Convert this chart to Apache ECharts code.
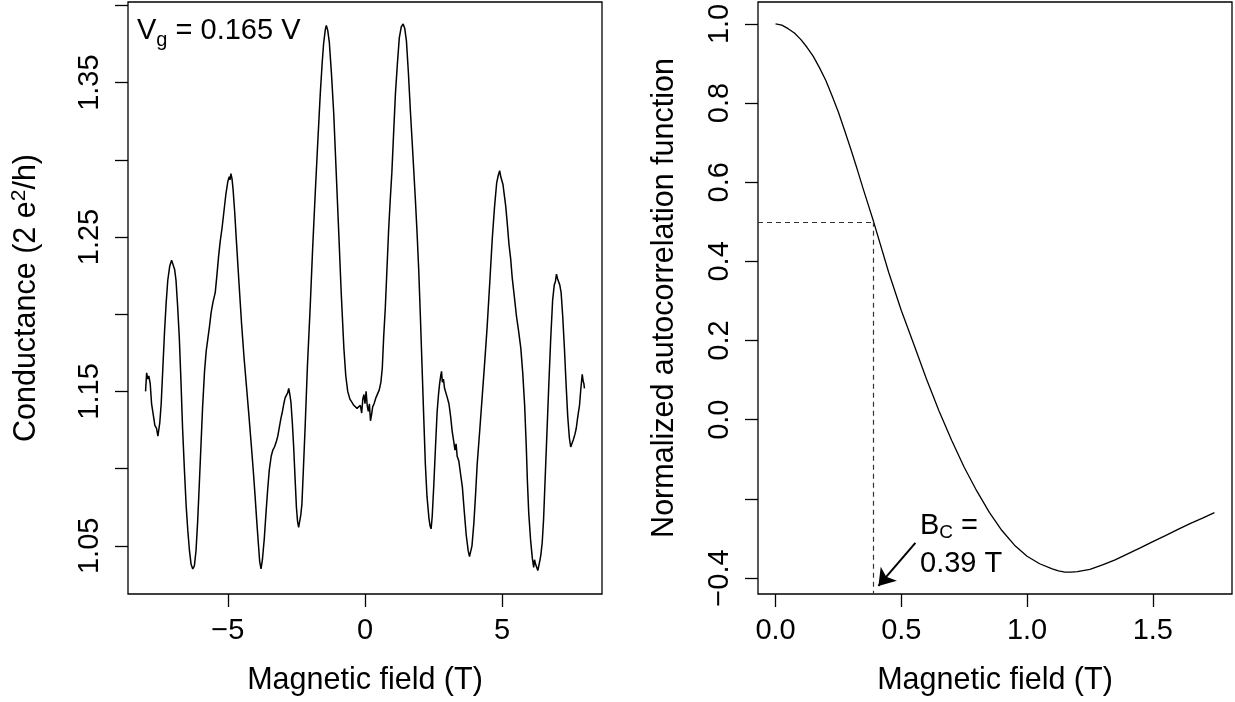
<!DOCTYPE html>
<html><head><meta charset="utf-8">
<script src="https://cdn.jsdelivr.net/npm/echarts@6/dist/echarts.min.js"></script>
<style>html,body{margin:0;padding:0;background:#fff}#c{width:1235px;height:702px}</style>
</head><body><div id="c"></div><script>
// ---- Left panel: conductance trace ----
const condField = [-8.00,-7.96,-7.92,-7.88,-7.83,-7.78,-7.72,-7.66,-7.60,-7.55,-7.52,-7.48,-7.43,-7.37,-7.31,-7.25,-7.19,-7.12,-7.05,-7.00,-6.94,-6.89,-6.83,-6.77,-6.71,-6.65,-6.58,-6.52,-6.46,-6.40,-6.34,-6.28,-6.22,-6.16,-6.10,-6.04,-5.98,-5.92,-5.85,-5.79,-5.73,-5.67,-5.61,-5.54,-5.46,-5.40,-5.34,-5.28,-5.21,-5.14,-5.07,-5.00,-4.95,-4.92,-4.89,-4.85,-4.81,-4.75,-4.69,-4.60,-4.50,-4.41,-4.32,-4.23,-4.14,-4.07,-4.01,-3.95,-3.89,-3.84,-3.79,-3.74,-3.67,-3.61,-3.55,-3.49,-3.42,-3.36,-3.30,-3.24,-3.18,-3.12,-3.06,-3.01,-2.96,-2.91,-2.86,-2.82,-2.78,-2.74,-2.70,-2.65,-2.60,-2.55,-2.50,-2.46,-2.42,-2.38,-2.34,-2.30,-2.25,-2.18,-2.10,-2.00,-1.91,-1.81,-1.72,-1.63,-1.56,-1.51,-1.45,-1.41,-1.36,-1.30,-1.22,-1.14,-1.05,-0.96,-0.87,-0.77,-0.70,-0.63,-0.55,-0.48,-0.41,-0.35,-0.29,-0.22,-0.17,-0.12,-0.08,-0.04,0.00,0.04,0.08,0.12,0.16,0.20,0.24,0.28,0.33,0.40,0.46,0.52,0.58,0.63,0.68,0.74,0.80,0.86,0.92,0.98,1.04,1.11,1.18,1.25,1.32,1.39,1.45,1.51,1.58,1.66,1.75,1.84,1.90,1.96,2.02,2.08,2.14,2.20,2.26,2.33,2.37,2.41,2.45,2.51,2.57,2.63,2.68,2.72,2.76,2.79,2.82,2.86,2.90,2.94,3.00,3.06,3.12,3.18,3.24,3.28,3.32,3.36,3.42,3.48,3.55,3.62,3.69,3.76,3.81,3.85,3.90,3.97,4.03,4.09,4.18,4.27,4.36,4.45,4.55,4.64,4.72,4.80,4.86,4.91,4.95,5.00,5.03,5.08,5.13,5.19,5.25,5.31,5.37,5.44,5.52,5.60,5.68,5.75,5.82,5.88,5.92,5.97,6.04,6.10,6.15,6.18,6.22,6.26,6.30,6.33,6.37,6.41,6.46,6.51,6.56,6.63,6.70,6.77,6.84,6.90,6.94,6.98,7.02,7.06,7.10,7.15,7.21,7.27,7.33,7.39,7.45,7.50,7.55,7.60,7.65,7.70,7.76,7.82,7.87,7.92,7.95,7.98,8.00];
const condValue = [1.150,1.162,1.158,1.160,1.155,1.142,1.135,1.128,1.126,1.121,1.122,1.130,1.142,1.165,1.188,1.207,1.222,1.231,1.235,1.234,1.229,1.222,1.205,1.185,1.157,1.126,1.098,1.076,1.060,1.047,1.038,1.035,1.037,1.047,1.066,1.090,1.115,1.140,1.163,1.176,1.184,1.192,1.201,1.208,1.214,1.225,1.237,1.247,1.256,1.267,1.278,1.286,1.289,1.287,1.291,1.288,1.281,1.266,1.248,1.222,1.194,1.172,1.153,1.134,1.114,1.098,1.083,1.067,1.052,1.040,1.035,1.041,1.055,1.071,1.086,1.099,1.108,1.112,1.114,1.117,1.121,1.127,1.133,1.137,1.142,1.146,1.147,1.149,1.152,1.148,1.143,1.130,1.114,1.094,1.075,1.066,1.062,1.063,1.070,1.077,1.098,1.128,1.166,1.204,1.242,1.280,1.312,1.343,1.363,1.375,1.384,1.387,1.384,1.376,1.355,1.330,1.292,1.254,1.215,1.178,1.160,1.150,1.145,1.143,1.141,1.142,1.139,1.138,1.141,1.136,1.145,1.148,1.142,1.150,1.141,1.137,1.142,1.131,1.135,1.140,1.142,1.146,1.147,1.151,1.156,1.165,1.185,1.204,1.229,1.254,1.274,1.292,1.316,1.343,1.362,1.379,1.386,1.388,1.385,1.377,1.357,1.330,1.302,1.273,1.252,1.228,1.198,1.166,1.134,1.103,1.082,1.068,1.063,1.061,1.069,1.090,1.114,1.137,1.148,1.155,1.160,1.163,1.156,1.158,1.152,1.151,1.146,1.142,1.134,1.124,1.117,1.112,1.116,1.108,1.105,1.097,1.088,1.072,1.057,1.047,1.043,1.042,1.050,1.065,1.083,1.103,1.124,1.146,1.168,1.191,1.221,1.249,1.269,1.285,1.290,1.293,1.289,1.288,1.284,1.277,1.270,1.258,1.245,1.236,1.223,1.212,1.199,1.189,1.178,1.162,1.141,1.114,1.092,1.071,1.053,1.042,1.036,1.041,1.038,1.039,1.034,1.033,1.040,1.044,1.052,1.067,1.090,1.122,1.154,1.184,1.209,1.219,1.221,1.226,1.223,1.224,1.219,1.214,1.198,1.178,1.155,1.134,1.120,1.114,1.113,1.119,1.122,1.126,1.134,1.141,1.152,1.161,1.157,1.155,1.152];
const leftXTicks = [-5, 0, 5];
const leftYTicks = [1.05, 1.10, 1.15, 1.20, 1.25, 1.30, 1.35, 1.40];
const leftYLabels = [1.05, 1.15, 1.25, 1.35];

// ---- Right panel: normalized autocorrelation ----
const acfField = [0.000,0.025,0.050,0.075,0.100,0.125,0.150,0.175,0.200,0.225,0.250,0.275,0.300,0.325,0.350,0.390,0.450,0.500,0.550,0.600,0.650,0.700,0.750,0.800,0.850,0.900,0.950,1.000,1.050,1.100,1.125,1.150,1.175,1.200,1.250,1.300,1.350,1.400,1.450,1.500,1.550,1.600,1.650,1.700,1.745];
const acfValue = [1.000,0.997,0.988,0.977,0.961,0.941,0.918,0.889,0.857,0.818,0.777,0.730,0.682,0.632,0.580,0.500,0.372,0.276,0.190,0.103,0.022,-0.052,-0.120,-0.180,-0.234,-0.280,-0.317,-0.345,-0.364,-0.377,-0.382,-0.385,-0.385,-0.384,-0.378,-0.367,-0.354,-0.339,-0.324,-0.308,-0.293,-0.277,-0.262,-0.248,-0.235];
const rightXTicks = [0, 0.5, 1.0, 1.5];
const rightYTicks = [-0.4, -0.2, 0, 0.2, 0.4, 0.6, 0.8, 1.0];
const rightYLabels = [-0.4, 0, 0.2, 0.4, 0.6, 0.8, 1.0];
const bcField = 0.39;
const halfLevel = 0.5;
const arrowFrom = [0.556, -0.311];
const arrowTo = [0.409, -0.420];

// ---- helpers ----
function rPad(arr) {
  const mn = Math.min(...arr), mx = Math.max(...arr), d = (mx - mn) * 0.04;
  return [mn - d, mx + d];
}
function fmt(dec) {
  return v => (v < -1e-9 ? '\u2212' : '') + Math.abs(v).toFixed(dec);
}
const FONT = 'Liberation Sans, Arial, Helvetica, sans-serif';
const FS = 29;
const NFS = 30.5;
const txt = { color: '#000', fontFamily: FONT, fontSize: FS };
const ntxt = { color: '#000', fontFamily: FONT, fontSize: NFS };

const lx = rPad(condField), ly = rPad(condValue);
const rx = rPad(acfField), ry = rPad(acfValue);

function xAxisCfg(grid, lim, ticks, dec) {
  return {
    gridIndex: grid, type: 'value', min: lim[0], max: lim[1],
    axisLine: { show: false, onZero: false },
    axisTick: { show: true, length: 13, customValues: ticks, lineStyle: { color: '#000', width: 1.3 } },
    axisLabel: Object.assign({ customValues: ticks, formatter: fmt(dec), margin: 22 }, txt),
    splitLine: { show: false },
    name: 'Magnetic field (T)', nameLocation: 'middle', nameGap: 71,
    nameTextStyle: Object.assign({}, ntxt)
  };
}
function yAxisCfg(grid, lim, ticks, labels, dec, name, gap, rich) {
  return {
    gridIndex: grid, type: 'value', min: lim[0], max: lim[1],
    axisLine: { show: false, onZero: false },
    axisTick: { show: true, length: 13, customValues: ticks, lineStyle: { color: '#000', width: 1.3 } },
    axisLabel: Object.assign({ customValues: labels, formatter: fmt(dec), margin: 24, rotate: 90 }, txt),
    splitLine: { show: false },
    name: name, nameLocation: 'middle', nameGap: gap, nameRotate: 90,
    nameTextStyle: Object.assign({ rich: rich || {} }, ntxt)
  };
}

const chart = echarts.init(document.getElementById('c'), null, { renderer: 'canvas' });
const dashStyle = { color: '#333', width: 1.2, type: [5, 4] };

chart.setOption({
  animation: false,
  backgroundColor: '#fff',
  grid: [
    { left: 128, top: 2, width: 474, height: 592, show: true, borderColor: '#000', borderWidth: 1.3 },
    { left: 758, top: 2, width: 474, height: 592, show: true, borderColor: '#000', borderWidth: 1.3 }
  ],
  xAxis: [
    xAxisCfg(0, lx, leftXTicks, 0),
    xAxisCfg(1, rx, rightXTicks, 1)
  ],
  yAxis: [
    yAxisCfg(0, ly, leftYTicks, leftYLabels, 2,
      '{t|Conductance (2 e}{sp|2}{t|/h)}', 83,
      { t: Object.assign({}, ntxt), sp: { color: '#000', fontFamily: FONT, fontSize: 21, padding: [0, 0, 15, 0] } }),
    yAxisCfg(1, ry, rightYTicks, rightYLabels, 1, 'Normalized autocorrelation function', 78)
  ],
  series: [
    {
      type: 'line', xAxisIndex: 0, yAxisIndex: 0, showSymbol: false, silent: true,
      lineStyle: { color: '#000', width: 1.5 },
      data: condField.map((x, i) => [x, condValue[i]])
    },
    {
      type: 'line', xAxisIndex: 1, yAxisIndex: 1, showSymbol: false, silent: true,
      lineStyle: { color: '#000', width: 1.3 },
      data: acfField.map((x, i) => [x, acfValue[i]]),
      markLine: {
        silent: true, symbol: ['none', 'none'], label: { show: false },
        lineStyle: dashStyle, animation: false,
        data: [
          [{ coord: [rx[0], halfLevel] }, { coord: [bcField, halfLevel] }],
          [{ coord: [bcField, halfLevel] }, { coord: [bcField, ry[0]] }]
        ]
      }
    },
    {
      type: 'line', xAxisIndex: 1, yAxisIndex: 1, showSymbol: false, silent: true,
      data: [],
      markLine: {
        silent: true, symbol: ['none', 'arrow'], symbolSize: 16, label: { show: false },
        lineStyle: { color: '#000', width: 2, type: 'solid' }, animation: false,
        data: [[{ coord: arrowFrom }, { coord: arrowTo }]]
      }
    }
  ],
  graphic: [
    {
      type: 'text', left: 137, top: 16,
      style: {
        text: '{m|V}{s|g}{m| = 0.165 V}',
        rich: {
          m: Object.assign({}, txt),
          s: { color: '#000', fontFamily: FONT, fontSize: 20, padding: [19, 0, 0, 0] }
        }
      }
    },
    {
      type: 'text', left: 920, top: 511,
      style: {
        text: '{m|B}{s|C}{m| =}',
        rich: {
          m: Object.assign({}, txt),
          s: { color: '#000', fontFamily: FONT, fontSize: 19, padding: [14, 0, 0, 0] }
        }
      }
    },
    {
      type: 'text', left: 920, top: 549,
      style: { text: '0.39 T', fill: '#000', font: FS + 'px ' + FONT }
    }
  ]
});
</script></body></html>
